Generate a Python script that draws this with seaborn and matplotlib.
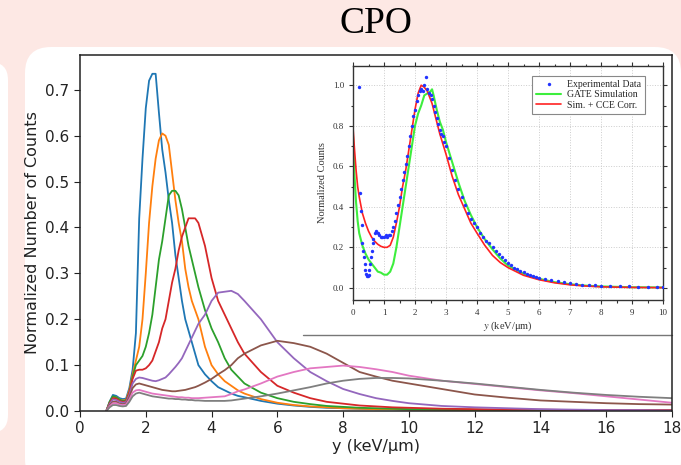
import numpy as np
import pandas as pd
import matplotlib
matplotlib.use('Agg')
import matplotlib.pyplot as plt
from matplotlib.patches import FancyBboxPatch
from matplotlib.lines import Line2D
from matplotlib.transforms import IdentityTransform
import seaborn as sns

#------------------------------------------------------------------------------
# main plot: lineal energy spectra
x_main = [0.8, 0.9, 1.0, 1.1, 1.2, 1.3, 1.4, 1.5, 1.6, 1.7, 1.8, 1.9, 2.0, 2.1,
          2.2, 2.3, 2.4, 2.5, 2.6, 2.7, 2.8, 2.9, 3.0, 3.1, 3.2, 3.3, 3.4, 3.5,
          3.6, 3.8, 4.0, 4.2, 4.4, 4.6, 4.8, 5.0, 5.5, 6.0, 6.5, 7.0, 7.5, 8.0,
          8.5, 9.0, 9.5, 10, 11, 12, 13, 14, 15, 16, 17, 18]
s_blue = [0, 0.02, 0.035, 0.033, 0.028, 0.026, 0.027, 0.05, 0.09, 0.17, 0.42,
          0.55, 0.66, 0.72, 0.735, 0.735, 0.65, 0.57, 0.52, 0.46, 0.41, 0.34,
          0.29, 0.24, 0.2, 0.175, 0.15, 0.125, 0.1, 0.08, 0.065, 0.052, 0.045,
          0.038, 0.033, 0.03, 0.022, 0.016, 0.012, 0.009, 0.007, 0.006, 0.005,
          0.004, 0.004, 0.003, 0.003, 0.002, 0.002, 0.002, 0.001, 0.001, 0.001, 0.001]
s_orange = [0, 0.018, 0.03, 0.03, 0.025, 0.023, 0.024, 0.045, 0.08, 0.11, 0.14,
            0.2, 0.3, 0.41, 0.49, 0.55, 0.59, 0.605, 0.6, 0.58, 0.52, 0.46,
            0.41, 0.37, 0.31, 0.27, 0.24, 0.22, 0.2, 0.14, 0.1, 0.08, 0.065,
            0.055, 0.045, 0.038, 0.026, 0.018, 0.013, 0.01, 0.008, 0.006, 0.005,
            0.004, 0.004, 0.003, 0.003, 0.002, 0.002, 0.002, 0.001, 0.001, 0.001, 0.001]
s_green = [0, 0.02, 0.032, 0.03, 0.025, 0.022, 0.023, 0.04, 0.075, 0.1, 0.11,
           0.12, 0.14, 0.17, 0.21, 0.27, 0.33, 0.37, 0.42, 0.47, 0.48, 0.48,
           0.47, 0.44, 0.4, 0.36, 0.33, 0.3, 0.27, 0.22, 0.18, 0.15, 0.115,
           0.09, 0.075, 0.06, 0.04, 0.028, 0.02, 0.015, 0.011, 0.009, 0.007,
           0.006, 0.005, 0.004, 0.003, 0.003, 0.002, 0.002, 0.001, 0.001, 0.001, 0.001]
s_red = [0, 0.017, 0.028, 0.027, 0.022, 0.02, 0.021, 0.04, 0.07, 0.088, 0.09,
         0.09, 0.093, 0.1, 0.11, 0.13, 0.15, 0.18, 0.2, 0.24, 0.28, 0.31, 0.35,
         0.38, 0.4, 0.42, 0.42, 0.42, 0.41, 0.36, 0.29, 0.24, 0.21, 0.18, 0.15,
         0.125, 0.085, 0.055, 0.04, 0.028, 0.02, 0.016, 0.012, 0.01, 0.008,
         0.007, 0.005, 0.004, 0.003, 0.003, 0.002, 0.002, 0.002, 0.002]
s_purple = [0, 0.015, 0.025, 0.024, 0.02, 0.018, 0.019, 0.035, 0.06, 0.07,
            0.073, 0.072, 0.07, 0.068, 0.066, 0.065, 0.067, 0.07, 0.073, 0.08,
            0.088, 0.096, 0.105, 0.115, 0.13, 0.145, 0.16, 0.175, 0.19, 0.21,
            0.24, 0.258, 0.26, 0.262, 0.255, 0.24, 0.2, 0.15, 0.115, 0.085,
            0.065, 0.048, 0.037, 0.028, 0.022, 0.017, 0.011, 0.008, 0.006,
            0.004, 0.003, 0.002, 0.002, 0.001]
s_brown = [0, 0.012, 0.02, 0.02, 0.016, 0.015, 0.016, 0.03, 0.05, 0.058, 0.06,
           0.058, 0.056, 0.054, 0.052, 0.05, 0.048, 0.046, 0.045, 0.044, 0.043,
           0.043, 0.044, 0.045, 0.046, 0.048, 0.05, 0.052, 0.055, 0.062, 0.07,
           0.08, 0.089, 0.1, 0.115, 0.125, 0.143, 0.153, 0.148, 0.14, 0.125,
           0.105, 0.085, 0.075, 0.066, 0.06, 0.048, 0.036, 0.029, 0.023, 0.02,
           0.017, 0.015, 0.014]
s_pink = [0, 0.01, 0.017, 0.017, 0.014, 0.013, 0.014, 0.025, 0.04, 0.045, 0.046,
          0.044, 0.042, 0.04, 0.038, 0.037, 0.036, 0.035, 0.034, 0.033, 0.032,
          0.031, 0.03, 0.03, 0.029, 0.029, 0.028, 0.028, 0.028, 0.029, 0.03,
          0.031, 0.032, 0.037, 0.043, 0.047, 0.06, 0.075, 0.085, 0.093, 0.096,
          0.099, 0.096, 0.091, 0.085, 0.077, 0.066, 0.059, 0.052, 0.045, 0.039,
          0.032, 0.025, 0.018]
s_gray = [0, 0.008, 0.013, 0.013, 0.011, 0.01, 0.011, 0.02, 0.032, 0.038, 0.04,
          0.038, 0.036, 0.034, 0.032, 0.031, 0.03, 0.029, 0.028, 0.027, 0.027,
          0.026, 0.026, 0.025, 0.025, 0.024, 0.024, 0.023, 0.023, 0.022, 0.022,
          0.022, 0.022, 0.023, 0.025, 0.027, 0.032, 0.038, 0.045, 0.052, 0.06,
          0.066, 0.07, 0.072, 0.072, 0.071, 0.066, 0.06, 0.053, 0.046, 0.04,
          0.035, 0.031, 0.028]
series = {'blue': s_blue, 'orange': s_orange, 'green': s_green, 'red': s_red,
          'purple': s_purple, 'brown': s_brown, 'pink': s_pink, 'gray': s_gray}

#------------------------------------------------------------------------------
# inset: experimental vs simulation
x_exp = [0.2, 0.22, 0.25, 0.28, 0.3, 0.33, 0.35, 0.38, 0.4, 0.43, 0.45, 0.48,
         0.5, 0.53, 0.55, 0.58, 0.6, 0.63, 0.65, 0.7, 0.75, 0.8, 0.85, 0.9,
         0.95, 1.0, 1.05, 1.1, 1.15, 1.2, 1.25, 1.3, 1.35, 1.4, 1.45, 1.5,
         1.55, 1.6, 1.65, 1.7, 1.75, 1.8, 1.85, 1.9, 1.95, 2.0, 2.05, 2.1,
         2.15, 2.2, 2.25, 2.3, 2.35, 2.4, 2.45, 2.5, 2.55, 2.6, 2.65, 2.7,
         2.75, 2.8, 2.85, 2.9, 2.95, 3.0, 3.1, 3.2, 3.3, 3.4, 3.5, 3.6, 3.7,
         3.8, 3.9, 4.0, 4.1, 4.2, 4.3, 4.4, 4.5, 4.6, 4.7, 4.8, 4.9, 5.0, 5.1,
         5.2, 5.3, 5.4, 5.5, 5.6, 5.7, 5.8, 5.9, 6.0, 6.2, 6.4, 6.6, 6.8, 7.0,
         7.2, 7.4, 7.6, 7.8, 8.0, 8.3, 8.6, 8.9, 9.2, 9.5, 9.8, 10.0]
y_exp = [0.99, 0.47, 0.38, 0.31, 0.22, 0.18, 0.15, 0.12, 0.09, 0.07, 0.06, 0.06,
         0.065, 0.09, 0.12, 0.15, 0.18, 0.22, 0.24, 0.27, 0.28, 0.27, 0.26,
         0.25, 0.25, 0.25, 0.26, 0.25, 0.26, 0.26, 0.28, 0.3, 0.33, 0.37,
         0.41, 0.45, 0.49, 0.53, 0.57, 0.61, 0.65, 0.7, 0.75, 0.8, 0.85, 0.88,
         0.92, 0.95, 0.97, 0.98, 0.97, 1.0, 1.04, 0.98, 0.96, 0.95, 0.93,
         0.9, 0.87, 0.84, 0.81, 0.78, 0.76, 0.75, 0.72, 0.7, 0.64, 0.58, 0.53,
         0.49, 0.45, 0.41, 0.37, 0.34, 0.32, 0.3, 0.27, 0.25, 0.23, 0.22, 0.2,
         0.18, 0.165, 0.15, 0.135, 0.125, 0.112, 0.1, 0.092, 0.085, 0.077,
         0.07, 0.065, 0.06, 0.055, 0.05, 0.043, 0.037, 0.032, 0.027, 0.022,
         0.019, 0.016, 0.014, 0.012, 0.011, 0.01, 0.008, 0.007, 0.006, 0.006,
         0.005, 0.005]
x_sim = [0.0, 0.05, 0.1, 0.15, 0.2, 0.3, 0.4, 0.5, 0.6, 0.7, 0.8, 0.9, 1.0,
         1.1, 1.2, 1.3, 1.4, 1.5, 1.6, 1.7, 1.8, 1.9, 2.0, 2.1, 2.2, 2.3, 2.4,
         2.5, 2.55, 2.6, 2.7, 2.8, 2.9, 3.0, 3.2, 3.4, 3.6, 3.8, 4.0, 4.25,
         4.5, 4.75, 5.0, 5.5, 6.0, 6.5, 7.0, 7.5, 8.0, 9.0, 10.0]
y_gate = [0.75, 0.55, 0.42, 0.33, 0.27, 0.21, 0.17, 0.14, 0.12, 0.1, 0.08,
          0.075, 0.065, 0.065, 0.08, 0.12, 0.2, 0.3, 0.4, 0.5, 0.6, 0.7, 0.8,
          0.86, 0.9, 0.95, 0.96, 0.97, 0.98, 0.95, 0.88, 0.82, 0.78, 0.72,
          0.62, 0.52, 0.43, 0.36, 0.3, 0.24, 0.19, 0.145, 0.11, 0.07, 0.045,
          0.028, 0.018, 0.011, 0.007, 0.003, 0.002]
y_cce = [0.79, 0.68, 0.58, 0.5, 0.45, 0.37, 0.32, 0.28, 0.25, 0.23, 0.215,
         0.205, 0.2, 0.2, 0.21, 0.25, 0.32, 0.4, 0.5, 0.58, 0.68, 0.78, 0.88,
         0.96, 1.0, 0.99, 0.97, 0.93, 0.91, 0.88, 0.82, 0.76, 0.71, 0.66,
         0.55, 0.46, 0.39, 0.32, 0.27, 0.21, 0.16, 0.125, 0.1, 0.062, 0.04,
         0.025, 0.015, 0.009, 0.005, 0.002, 0.001]

#==============================================================================
sns.set_style('ticks')
plt.rcParams['font.family'] = ['DejaVu Sans']
plt.rcParams['mathtext.fontset'] = 'stix'

W, H = 681, 465
fig = plt.figure(figsize=(W / 100, H / 100), dpi=100)
fig.patch.set_facecolor('#fde8e4')

# white rounded panels (pixel coordinates, y from bottom), kept behind axes
for (x0, y0, w, h, r) in [(-40, 32, 48, 371, 18), (25, -20, 656, 438, 26)]:
    fig.patches.append(FancyBboxPatch((x0, y0), w, h,
                       boxstyle='round,pad=0,rounding_size=%d' % r,
                       transform=IdentityTransform(), facecolor='white',
                       edgecolor='none', zorder=-10))

fig.text(376 / W, 1 - 24 / H, 'CPO', ha='center', va='center',
         fontsize=27, family='Liberation Serif', color='black')

#------------------------------------------------------------------------------
ax = fig.add_axes([80 / W, 54 / H, 592 / W, 356 / H])
ax.set_zorder(1)
rows = []
for name, vals in series.items():
    for xv, yv in zip(x_main, vals):
        rows.append((name, xv, yv))
df = pd.DataFrame(rows, columns=['run', 'y', 'counts'])
sns.lineplot(data=df, x='y', y='counts', hue='run', palette='tab10',
             legend=False, linewidth=1.3, ax=ax, sort=False)
ax.set_xlim(0, 18)
ax.set_ylim(0, 0.776)
ax.set_xticks(range(0, 19, 2))
ax.set_yticks(np.arange(0, 0.71, 0.1))
ax.set_yticklabels(['%.1f' % v for v in np.arange(0, 0.71, 0.1)])
ax.tick_params(labelsize=11, length=4, width=0.8, colors='#222222')
ax.set_xlabel('y (keV/µm)', fontsize=11.5, labelpad=2, color='#222222')
ax.set_ylabel('Normalized Number of Counts', fontsize=11.5, labelpad=4,
              color='#222222')
for sp in ax.spines.values():
    sp.set_visible(True)
    sp.set_linewidth(1.1)
    sp.set_color('#222222')

# bottom edge of the inset image
ax.add_artist(Line2D([303, 672], [H - 335, H - 335], color='#777777',
                     linewidth=1.0, transform=IdentityTransform(),
                     clip_on=False))

#------------------------------------------------------------------------------
axi = fig.add_axes([353 / W, 165 / H, 310 / W, 234 / H])
axi.set_zorder(2)
sns.lineplot(x=x_sim, y=y_gate, color='#3dee3d', linewidth=1.5, ax=axi,
             label='GATE Simulation', sort=False)
sns.lineplot(x=x_sim, y=y_cce, color='#ff2222', linewidth=1.2, ax=axi,
             label='Sim. + CCE Corr.', sort=False)
sns.scatterplot(x=x_exp, y=y_exp, color='#2233ff', s=6, linewidth=0,
                ax=axi, label='Experimental Data', zorder=5)
axi.set_xlim(0, 10)
axi.set_ylim(-0.06, 1.095)
axi.set_xticks(range(0, 11))
axi.set_yticks([0, 0.2, 0.4, 0.6, 0.8, 1.0])
axi.set_yticklabels(['0.0', '0.2', '0.4', '0.6', '0.8', '1.0'])
axi.set_xticks(np.arange(0.5, 10, 1), minor=True)
axi.set_yticks(np.arange(0.1, 1.05, 0.2), minor=True)
axi.grid(True, which='major', linestyle=':', color='#cccccc', linewidth=0.7)
axi.tick_params(which='both', direction='out', top=True, right=True,
                labelsize=6.5, width=0.8, colors='#333333',
                labelfontfamily='Liberation Serif')
axi.tick_params(which='major', length=3)
axi.tick_params(which='minor', length=1.8)
axi.set_xlabel(r'$y$ (keV/μm)', fontsize=7.5, family='Liberation Serif',
               labelpad=2, color='#333333')
axi.set_ylabel('Normalized Counts', fontsize=7.5, family='Liberation Serif',
               labelpad=4, color='#333333')
for sp in axi.spines.values():
    sp.set_linewidth(1.0)
    sp.set_color('#333333')

h, l = axi.get_legend_handles_labels()
order = [2, 0, 1]
leg = axi.legend([h[i] for i in order], [l[i] for i in order],
                 loc='upper right', bbox_to_anchor=(0.942, 0.957),
                 borderaxespad=0, fancybox=False, framealpha=1,
                 edgecolor='#888888', handlelength=2.6, markerscale=1.0,
                 prop={'family': 'Liberation Serif', 'size': 7},
                 borderpad=0.4, labelspacing=0.15, handletextpad=0.6)
leg.get_frame().set_linewidth(0.8)

fig.savefig('out.png', dpi=100, facecolor=fig.get_facecolor())
